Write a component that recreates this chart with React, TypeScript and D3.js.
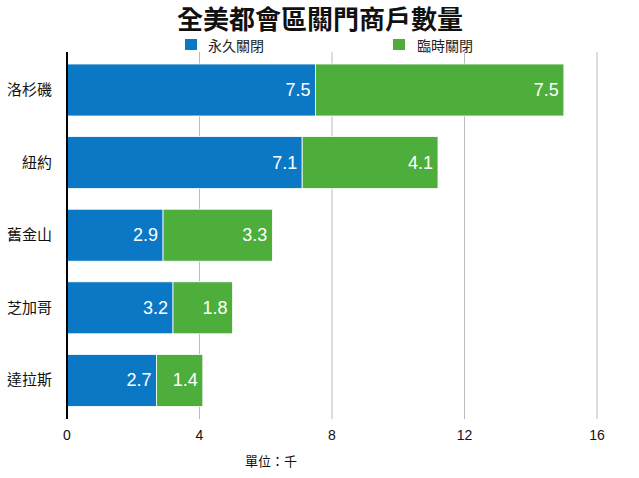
import React from "react"
import * as d3 from "d3"

const cities = ["洛杉磯", "紐約", "舊金山", "芝加哥", "達拉斯"]
const permanent = [7.5, 7.1, 2.9, 3.2, 2.7]
const temporary = [7.5, 4.1, 3.3, 1.8, 1.4]
const seriesNames = ["永久關閉", "臨時關閉"]
const xTicks = [0, 4, 8, 12, 16]

const width = 639
const height = 478
const colors = ["#0b78c5", "#4dae3c"]
const font = "'Noto Sans CJK TC', 'Noto Sans', sans-serif"

const App = () => {
    const x = d3.scaleLinear().domain([0, 16]).range([67, 597])
    const y = d3.scaleBand<string>()
        .domain(cities)
        .range([53.7, 416.7])
        .paddingInner(0.284)
        .paddingOuter(0.142)

    const stacked = cities.map((c, i) => ({
        city: c,
        segs: [
            {x0: 0, x1: permanent[i], v: permanent[i]},
            {x0: permanent[i], x1: permanent[i] + temporary[i], v: temporary[i]},
        ],
    }))

    return (
        <svg width={width} height={height} style={{display: "block", position: "absolute", left: 0, top: 0, background: "#fff"}}
             fontFamily={font}>
            <text x={320} y={29} textAnchor="middle" fontSize={26} fontWeight="bold" fill="#111">全美都會區關門商戶數量</text>

            {/* legend */}
            <rect x={185} y={39} width={12} height={11} fill={colors[0]}/>
            <text x={208} y={51} fontSize={14} fill="#222">{seriesNames[0]}</text>
            <rect x={393} y={39} width={12} height={11} fill={colors[1]}/>
            <text x={417} y={51} fontSize={14} fill="#222">{seriesNames[1]}</text>

            {/* grid */}
            {xTicks.slice(1).map(t => (
                <line key={t} x1={x(t)} x2={x(t)} y1={52} y2={419} stroke="#bbb" strokeWidth={1}/>
            ))}

            {/* bars */}
            {stacked.map(d => (
                <g key={d.city}>
                    {d.segs.map((s, j) => (
                        <g key={j}>
                            <rect x={x(s.x0)} y={y(d.city)} width={x(s.x1) - x(s.x0)} height={y.bandwidth()}
                                  fill={colors[j]} stroke="#fff" strokeWidth={0.8}/>
                            <text x={x(s.x1) - 5} y={(y(d.city) as number) + y.bandwidth() / 2 + 6}
                                  textAnchor="end" fontSize={18} fill="#fff"
                                  fontFamily="'Liberation Sans', Arial, sans-serif">{s.v.toFixed(1)}</text>
                        </g>
                    ))}
                    <text x={52} y={(y(d.city) as number) + y.bandwidth() / 2 + 5} textAnchor="end"
                          fontSize={15} fill="#111">{d.city}</text>
                </g>
            ))}

            {/* axis */}
            <line x1={x(0)} x2={x(0)} y1={52} y2={419} stroke="#000" strokeWidth={2}/>
            {xTicks.map(t => (
                <text key={t} x={x(t)} y={440} textAnchor="middle" fontSize={14} fill="#111"
                      fontFamily="'Liberation Sans', Arial, sans-serif">{t}</text>
            ))}
            <text x={271} y={466} textAnchor="middle" fontSize={13} fill="#111">單位：千</text>
        </svg>
    )
}

export default App
